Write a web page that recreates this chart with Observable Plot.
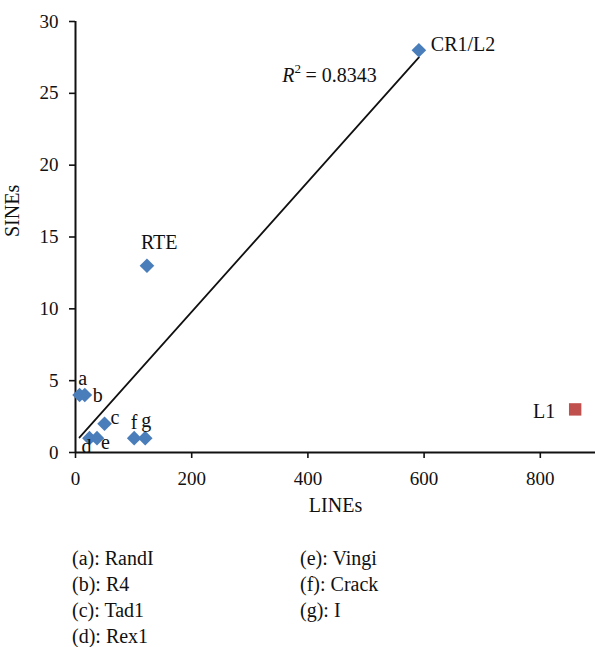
<!DOCTYPE html>
<html>
<head>
<meta charset="utf-8">
<script src="https://cdn.jsdelivr.net/npm/d3@7"></script>
<script src="https://cdn.jsdelivr.net/npm/@observablehq/plot@0.6"></script>
<style>
  body { margin: 0; background: #fff; font-family: "Liberation Serif", serif; }
  #chart { width: 595px; }
  #legend { position: relative; width: 595px; height: 117px; font-size: 20px; color: #111; }
  #legend div.col { position: absolute; top: 15px; line-height: 26px; }
</style>
</head>
<body>
<div id="chart"></div>
<div id="legend"></div>
<script>
// ---- data ----
const names  = ["a", "b", "c", "d", "e", "f", "g", "RTE", "CR1/L2", "L1"];
const lines  = [7, 16, 50, 24, 37, 101, 120, 123, 591, 860];   // LINEs
const sines  = [4, 4, 2, 1, 1, 1, 1, 13, 28, 3];               // SINEs
const kinds  = ["fit", "fit", "fit", "fit", "fit", "fit", "fit", "fit", "fit", "outlier"];
const xTicks = [0, 200, 400, 600, 800];
const yTicks = [0, 5, 10, 15, 20, 25, 30];
const r2Text = ["0.8343"];
const legendKeys  = ["a", "b", "c", "d", "e", "f", "g"];
const legendNames = ["RandI", "R4", "Tad1", "Rex1", "Vingi", "Crack", "I"];

const data = names.map((n, i) => ({name: n, x: lines[i], y: sines[i], kind: kinds[i]}));
const fitData = data.filter(d => d.kind === "fit");
const outData = data.filter(d => d.kind === "outlier");

// label placement (layout only)
const place = {
  "a":      {anchor: "middle", dx: 3,   dy: -16},
  "b":      {anchor: "start",  dx: 8,   dy: 1},
  "c":      {anchor: "start",  dx: 6,   dy: -6},
  "d":      {anchor: "middle", dx: -3,  dy: 8},
  "e":      {anchor: "start",  dx: 4,   dy: 4},
  "f":      {anchor: "middle", dx: 0,   dy: -16},
  "g":      {anchor: "middle", dx: 1,   dy: -18},
  "RTE":    {anchor: "start",  dx: -6,  dy: -23},
  "CR1/L2": {anchor: "start",  dx: 12,  dy: -6},
  "L1":     {anchor: "end",    dx: -20, dy: 2}
};

const font = "Liberation Serif";
const labelMarks = data.map(d => Plot.text([d], {
  x: "x", y: "y", text: "name",
  textAnchor: place[d.name].anchor, dx: place[d.name].dx, dy: place[d.name].dy,
  fontSize: 20, fill: "#111"
}));

// R² annotation anchor (data coords)
const r2 = [{x: 389, y: 26.2, v: r2Text[0]}];

const plot = Plot.plot({
  width: 595,
  height: 530,
  marginLeft: 75,
  marginRight: 0,
  marginTop: 21,
  marginBottom: 78,
  style: {fontFamily: font, fontSize: "19px", color: "#111", background: "#fff", overflow: "visible"},
  x: {domain: [0, 895]},
  y: {domain: [0, 30]},
  marks: [
    Plot.axisX({ticks: xTicks, tickSize: 6, tickPadding: 13, fontSize: 19, strokeWidth: 1.6, label: null}),
    Plot.axisY({ticks: yTicks, tickSize: 6, tickPadding: 11, fontSize: 19, strokeWidth: 1.6, label: null}),
    Plot.ruleY([0], {stroke: "#111", strokeWidth: 2}),
    Plot.ruleX([0], {stroke: "#111", strokeWidth: 2}),
    Plot.linearRegressionY(fitData, {x: "x", y: "y", ci: 0, stroke: "#111", strokeWidth: 1.8}),
    Plot.dot(fitData, {x: "x", y: "y", symbol: "diamond2", r: 6.6, fill: "#4a7ebb", stroke: "none"}),
    Plot.dot(outData, {x: "x", y: "y", symbol: "square", r: 7, fill: "#c0504d", stroke: "none"}),
    ...labelMarks,
    Plot.text(r2, {x: "x", y: "y", text: () => "R", textAnchor: "end", dx: -7, fontSize: 20, fontStyle: "italic", fill: "#111"}),
    Plot.text(r2, {x: "x", y: "y", text: () => "2", textAnchor: "start", dx: -7, dy: -7, fontSize: 13, fill: "#111"}),
    Plot.text(r2, {x: "x", y: "y", text: d => "= " + d.v, textAnchor: "start", dx: 4, fontSize: 20, fill: "#111"}),
    // axis titles
    Plot.text(["LINEs"], {frameAnchor: "bottom", dy: 59, text: d => d, fontSize: 20, fill: "#111"}),
    Plot.text(["SINEs"], {frameAnchor: "left", dx: -63, rotate: -90, text: d => d, fontSize: 20, fill: "#111"})
  ]
});
document.getElementById("chart").appendChild(plot);

// legend below the chart
const legend = d3.select("#legend");
const left = legend.append("div").attr("class", "col").style("left", "72px");
const right = legend.append("div").attr("class", "col").style("left", "300px");
legendKeys.forEach((k, i) => {
  (i < 4 ? left : right).append("div").text(`(${k}): ${legendNames[i]}`);
});
</script>
</body>
</html>
